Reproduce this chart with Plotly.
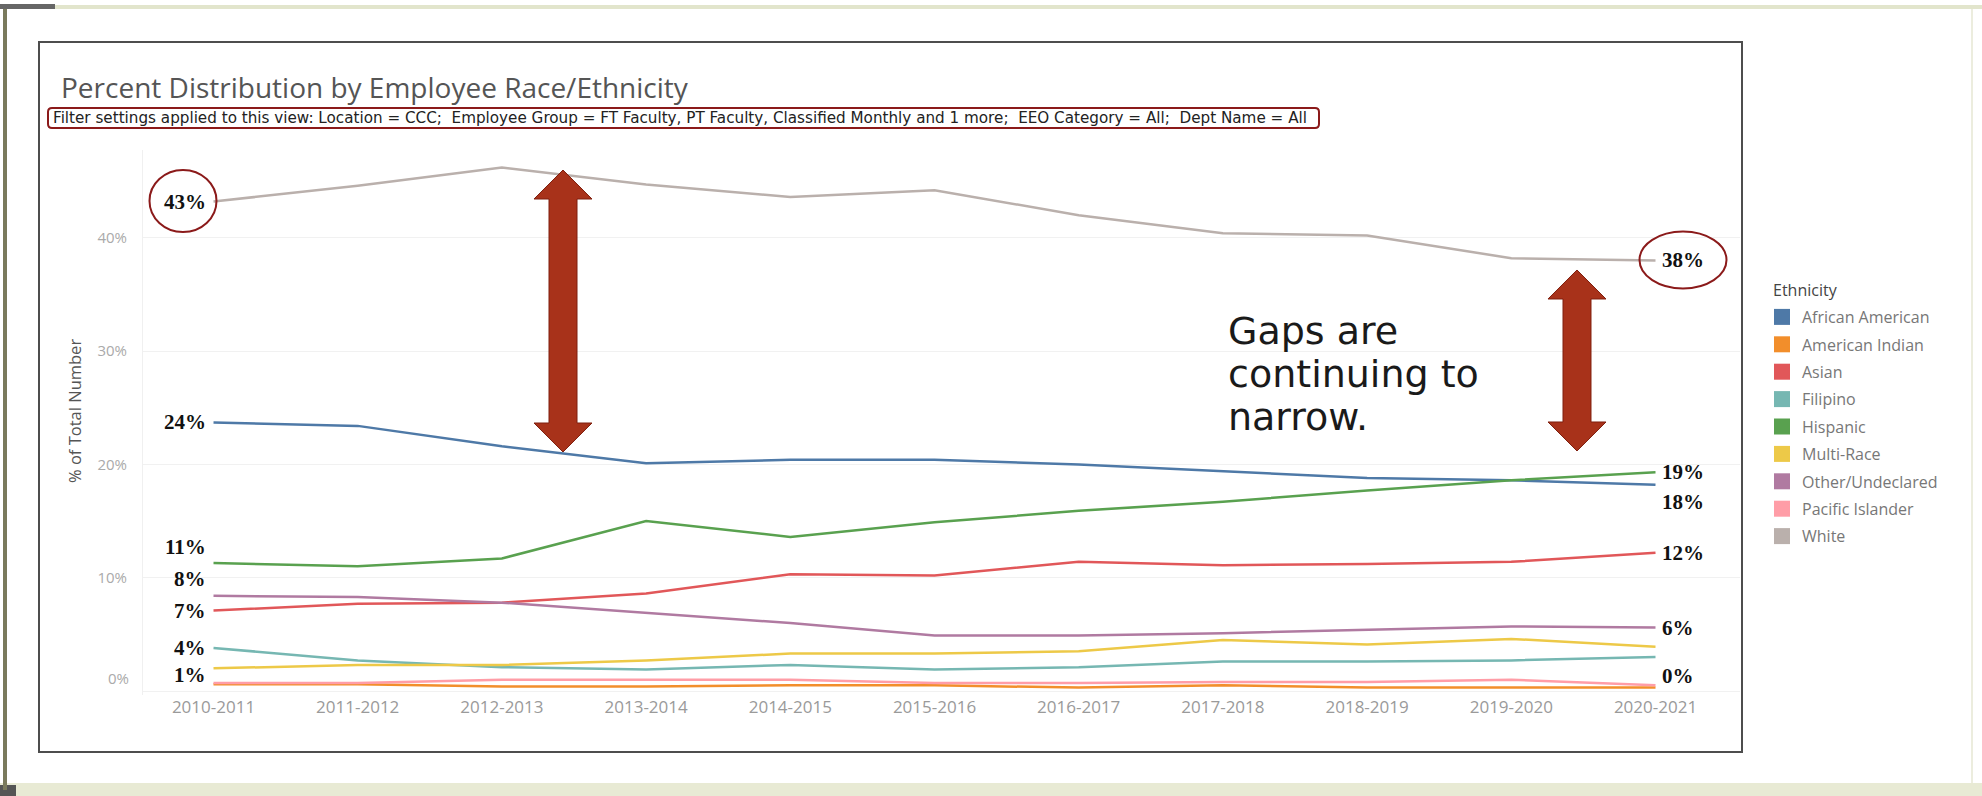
import plotly.graph_objects as go

# ---- data -------------------------------------------------------------
years = ["2010-2011", "2011-2012", "2012-2013", "2013-2014", "2014-2015",
         "2015-2016", "2016-2017", "2017-2018", "2018-2019", "2019-2020",
         "2020-2021"]

african_american = [23.7, 23.4, 21.6, 20.1, 20.4, 20.4, 20.0, 19.4, 18.8, 18.6, 18.2]
american_indian = [0.6, 0.6, 0.4, 0.4, 0.5, 0.5, 0.3, 0.5, 0.3, 0.3, 0.3]
asian = [7.1, 7.7, 7.8, 8.6, 10.3, 10.2, 11.4, 11.1, 11.2, 11.4, 12.2]
filipino = [3.8, 2.7, 2.1, 1.9, 2.3, 1.9, 2.1, 2.6, 2.6, 2.7, 3.0]
hispanic = [11.3, 11.0, 11.7, 15.0, 13.6, 14.9, 15.9, 16.7, 17.7, 18.6, 19.3]
multi_race = [2.0, 2.3, 2.3, 2.7, 3.3, 3.3, 3.5, 4.5, 4.1, 4.6, 3.9]
other_undeclared = [8.4, 8.3, 7.8, 6.9, 6.0, 4.9, 4.9, 5.1, 5.4, 5.7, 5.6]
pacific_islander = [0.7, 0.7, 1.0, 1.0, 1.0, 0.7, 0.7, 0.8, 0.8, 1.0, 0.5]
white = [43.2, 44.6, 46.2, 44.7, 43.6, 44.2, 42.0, 40.4, 40.2, 38.2, 38.0]

y_ticks = [0, 10, 20, 30, 40]
y_tick_text = ["0%", "10%", "20%", "30%", "40%"]

series = [
    ("African American", african_american, "#4E79A7"),
    ("American Indian", american_indian, "#F28E2B"),
    ("Asian", asian, "#E15759"),
    ("Filipino", filipino, "#76B7B2"),
    ("Hispanic", hispanic, "#59A14F"),
    ("Multi-Race", multi_race, "#EDC948"),
    ("Other/Undeclared", other_undeclared, "#B07AA1"),
    ("Pacific Islander", pacific_islander, "#FF9DA7"),
    ("White", white, "#BAB0AC"),
]

# ---- page geometry ----------------------------------------------------
FIG_W, FIG_H = 1982, 796
ML, MR, MT, MB = 143, 242, 150, 101
PW = FIG_W - ML - MR
PH = FIG_H - MT - MB
P_BOTTOM = FIG_H - MB


def px(x):
    return (x - ML) / PW


def py(y):
    return (P_BOTTOM - y) / PH


fig = go.Figure()

for name, vals, color in series:
    fig.add_trace(go.Scatter(
        x=years, y=vals, mode="lines", name=name, legendgroup=name,
        line=dict(color=color, width=2.5), showlegend=False,
        hovertemplate="%{x}<br>" + name + ": %{y:.1f}%<extra></extra>",
    ))
# square swatches for the legend
for name, vals, color in series:
    fig.add_trace(go.Scatter(
        x=[None], y=[None], mode="markers", name=name, legendgroup=name,
        marker=dict(symbol="square", size=18, color=color), showlegend=True,
    ))

# ---- end-point value labels -------------------------------------------
label_font = dict(family="Liberation Serif, Times New Roman, serif", size=21, color="#111")


def value_label(vals, idx, yshift, side):
    v = vals[idx]
    return dict(
        x=years[idx], y=v, xref="x", yref="y", text=f"<b>{v:.0f}%</b>",
        showarrow=False, font=label_font,
        xanchor="right" if side == "left" else "left",
        xshift=-6 if side == "left" else 4, yshift=yshift,
    )


annotations = [
    value_label(white, 0, 0, "left"),
    value_label(african_american, 0, 0, "left"),
    value_label(hispanic, 0, 16, "left"),
    value_label(other_undeclared, 0, 17, "left"),
    value_label(asian, 0, 0, "left"),
    value_label(filipino, 0, 0, "left"),
    value_label(pacific_islander, 0, 8, "left"),
    value_label(white, 10, 0, "right"),
    value_label(hispanic, 10, 0, "right"),
    value_label(african_american, 10, -17, "right"),
    value_label(asian, 10, 0, "right"),
    value_label(other_undeclared, 10, 0, "right"),
    value_label(american_indian, 10, 12, "right"),
]

# the bottom tick label sits just inside the pane
annotations.append(dict(
    xref="paper", yref="y", x=px(ML - 12), y=y_ticks[0], xanchor="right", yanchor="middle",
    yshift=13, text=y_tick_text[0], showarrow=False,
    font=dict(family="Open Sans, sans-serif", size=15, color="#aaa"),
))

# axis title, legend title, dashboard title, filter line and callout text
annotations += [
    dict(xref="paper", yref="paper", x=px(74), y=py(411), xanchor="center", yanchor="middle",
         textangle=-90, text="% of Total Number", showarrow=False,
         font=dict(family="Open Sans, sans-serif", size=16.5, color="#555")),
    dict(xref="paper", yref="paper", x=px(1771), y=py(290), xanchor="left", yanchor="middle",
         text="Ethnicity", showarrow=False,
         font=dict(family="Open Sans, sans-serif", size=16, color="#444")),
    dict(xref="paper", yref="paper", x=px(59), y=py(87), xanchor="left", yanchor="middle",
         text="Percent Distribution by Employee Race/Ethnicity", showarrow=False,
         font=dict(family="Open Sans, sans-serif", size=28, color="#555")),
    dict(xref="paper", yref="paper", x=px(51), y=py(118), xanchor="left", yanchor="middle",
         text="Filter settings applied to this view: Location = CCC;  Employee Group = FT Faculty, "
              "PT Faculty, Classified Monthly and 1 more;  EEO Category = All;  Dept Name = All",
         showarrow=False,
         font=dict(family="DejaVu Sans, sans-serif", size=15.2, color="#222")),
]
for i, line in enumerate(["Gaps are", "continuing to", "narrow."]):
    annotations.append(dict(
        xref="paper", yref="paper", x=px(1226), y=py(331 + 43 * i), xanchor="left",
        yanchor="middle", text=line, showarrow=False,
        font=dict(family="DejaVu Sans, sans-serif", size=38, color="#1a1a1a"),
    ))

# ---- decorative shapes ------------------------------------------------
DARK_RED = "#8B1A1A"


def block_arrow(cx, ytop, ybot, hw=29, hh=29, sw=14):
    pts = [(cx, ytop), (cx + hw, ytop + hh), (cx + sw, ytop + hh), (cx + sw, ybot - hh),
           (cx + hw, ybot - hh), (cx, ybot), (cx - hw, ybot - hh), (cx - sw, ybot - hh),
           (cx - sw, ytop + hh), (cx - hw, ytop + hh)]
    d = "M " + " L ".join(f"{px(x):.5f},{py(y):.5f}" for x, y in pts) + " Z"
    return dict(type="path", xref="paper", yref="paper", path=d,
                fillcolor="#A8321A", line=dict(color="#7F1F0E", width=1), layer="above")


def rounded_box(x0, y0, x1, y1, r=4):
    d = (f"M {px(x0 + r)},{py(y0)} L {px(x1 - r)},{py(y0)} Q {px(x1)},{py(y0)} {px(x1)},{py(y0 + r)} "
         f"L {px(x1)},{py(y1 - r)} Q {px(x1)},{py(y1)} {px(x1 - r)},{py(y1)} "
         f"L {px(x0 + r)},{py(y1)} Q {px(x0)},{py(y1)} {px(x0)},{py(y1 - r)} "
         f"L {px(x0)},{py(y0 + r)} Q {px(x0)},{py(y0)} {px(x0 + r)},{py(y0)} Z")
    return dict(type="path", xref="paper", yref="paper", path=d,
                line=dict(color=DARK_RED, width=2), fillcolor="rgba(0,0,0,0)")


def ellipse(cx, cy, w, h):
    return dict(type="circle", xref="paper", yref="paper",
                x0=px(cx - w / 2), x1=px(cx + w / 2), y0=py(cy + h / 2), y1=py(cy - h / 2),
                line=dict(color=DARK_RED, width=2), layer="above")


def prect(x0, y0, x1, y1, **kw):
    return dict(type="rect", xref="paper", yref="paper",
                x0=px(x0), x1=px(x1), y0=py(y1), y1=py(y0), **kw)


shapes = [
    # slide frame pieces
    prect(0, 783, FIG_W, FIG_H, fillcolor="#e8ead4", line=dict(width=0), layer="below"),
    prect(0, 785, 16, FIG_H, fillcolor="#555", line=dict(width=0), layer="below"),
    prect(0, 5, FIG_W, 9, fillcolor="#e2e5cc", line=dict(width=0), layer="below"),
    prect(0, 4, 55, 9, fillcolor="#666", line=dict(width=0), layer="below"),
    prect(3, 9, 7, 790, fillcolor="#7a7a5c", line=dict(width=0), layer="below"),
    prect(1971, 9, 1973, 783, fillcolor="#ecedde", line=dict(width=0), layer="below"),
    # dashboard frame
    prect(39, 42, 1742, 752, line=dict(color="#4d4d4d", width=2), fillcolor="rgba(0,0,0,0)",
          layer="below"),
    rounded_box(48, 108, 1319, 128),
    ellipse(183, 201, 67, 62),
    ellipse(1683, 260, 87, 57),
    block_arrow(563, 170, 452),
    block_arrow(1577, 270, 451),
]

fig.update_layout(
    width=FIG_W, height=FIG_H, autosize=False,
    margin=dict(l=ML, r=MR, t=MT, b=MB, pad=0),
    paper_bgcolor="white", plot_bgcolor="white",
    font=dict(family="Open Sans, sans-serif"),
    showlegend=True,
    legend=dict(
        x=px(1762), y=py(300), xref="paper", yref="paper", xanchor="left", yanchor="top",
        font=dict(size=16, color="#777"), bgcolor="rgba(0,0,0,0)",
        tracegroupgap=3.6, itemwidth=30, itemclick=False, itemdoubleclick=False,
    ),
    xaxis=dict(
        type="category", range=[-0.489, 10.586], showgrid=False, zeroline=False,
        showline=False, ticks="", tickfont=dict(size=17, color="#9a9a9a"),
        fixedrange=True,
    ),
    yaxis=dict(
        range=[-0.353, 47.75], tickvals=y_ticks, ticktext=[""] + y_tick_text[1:],
        showgrid=True, gridcolor="#f1f1f1", gridwidth=1, zeroline=False,
        showline=True, linecolor="#f0f0f0", ticks="",
        tickfont=dict(size=15, color="#aaa"), ticklabelstandoff=12,
        fixedrange=True,
    ),
    annotations=annotations,
    shapes=shapes,
)

fig.write_html("out.html")
